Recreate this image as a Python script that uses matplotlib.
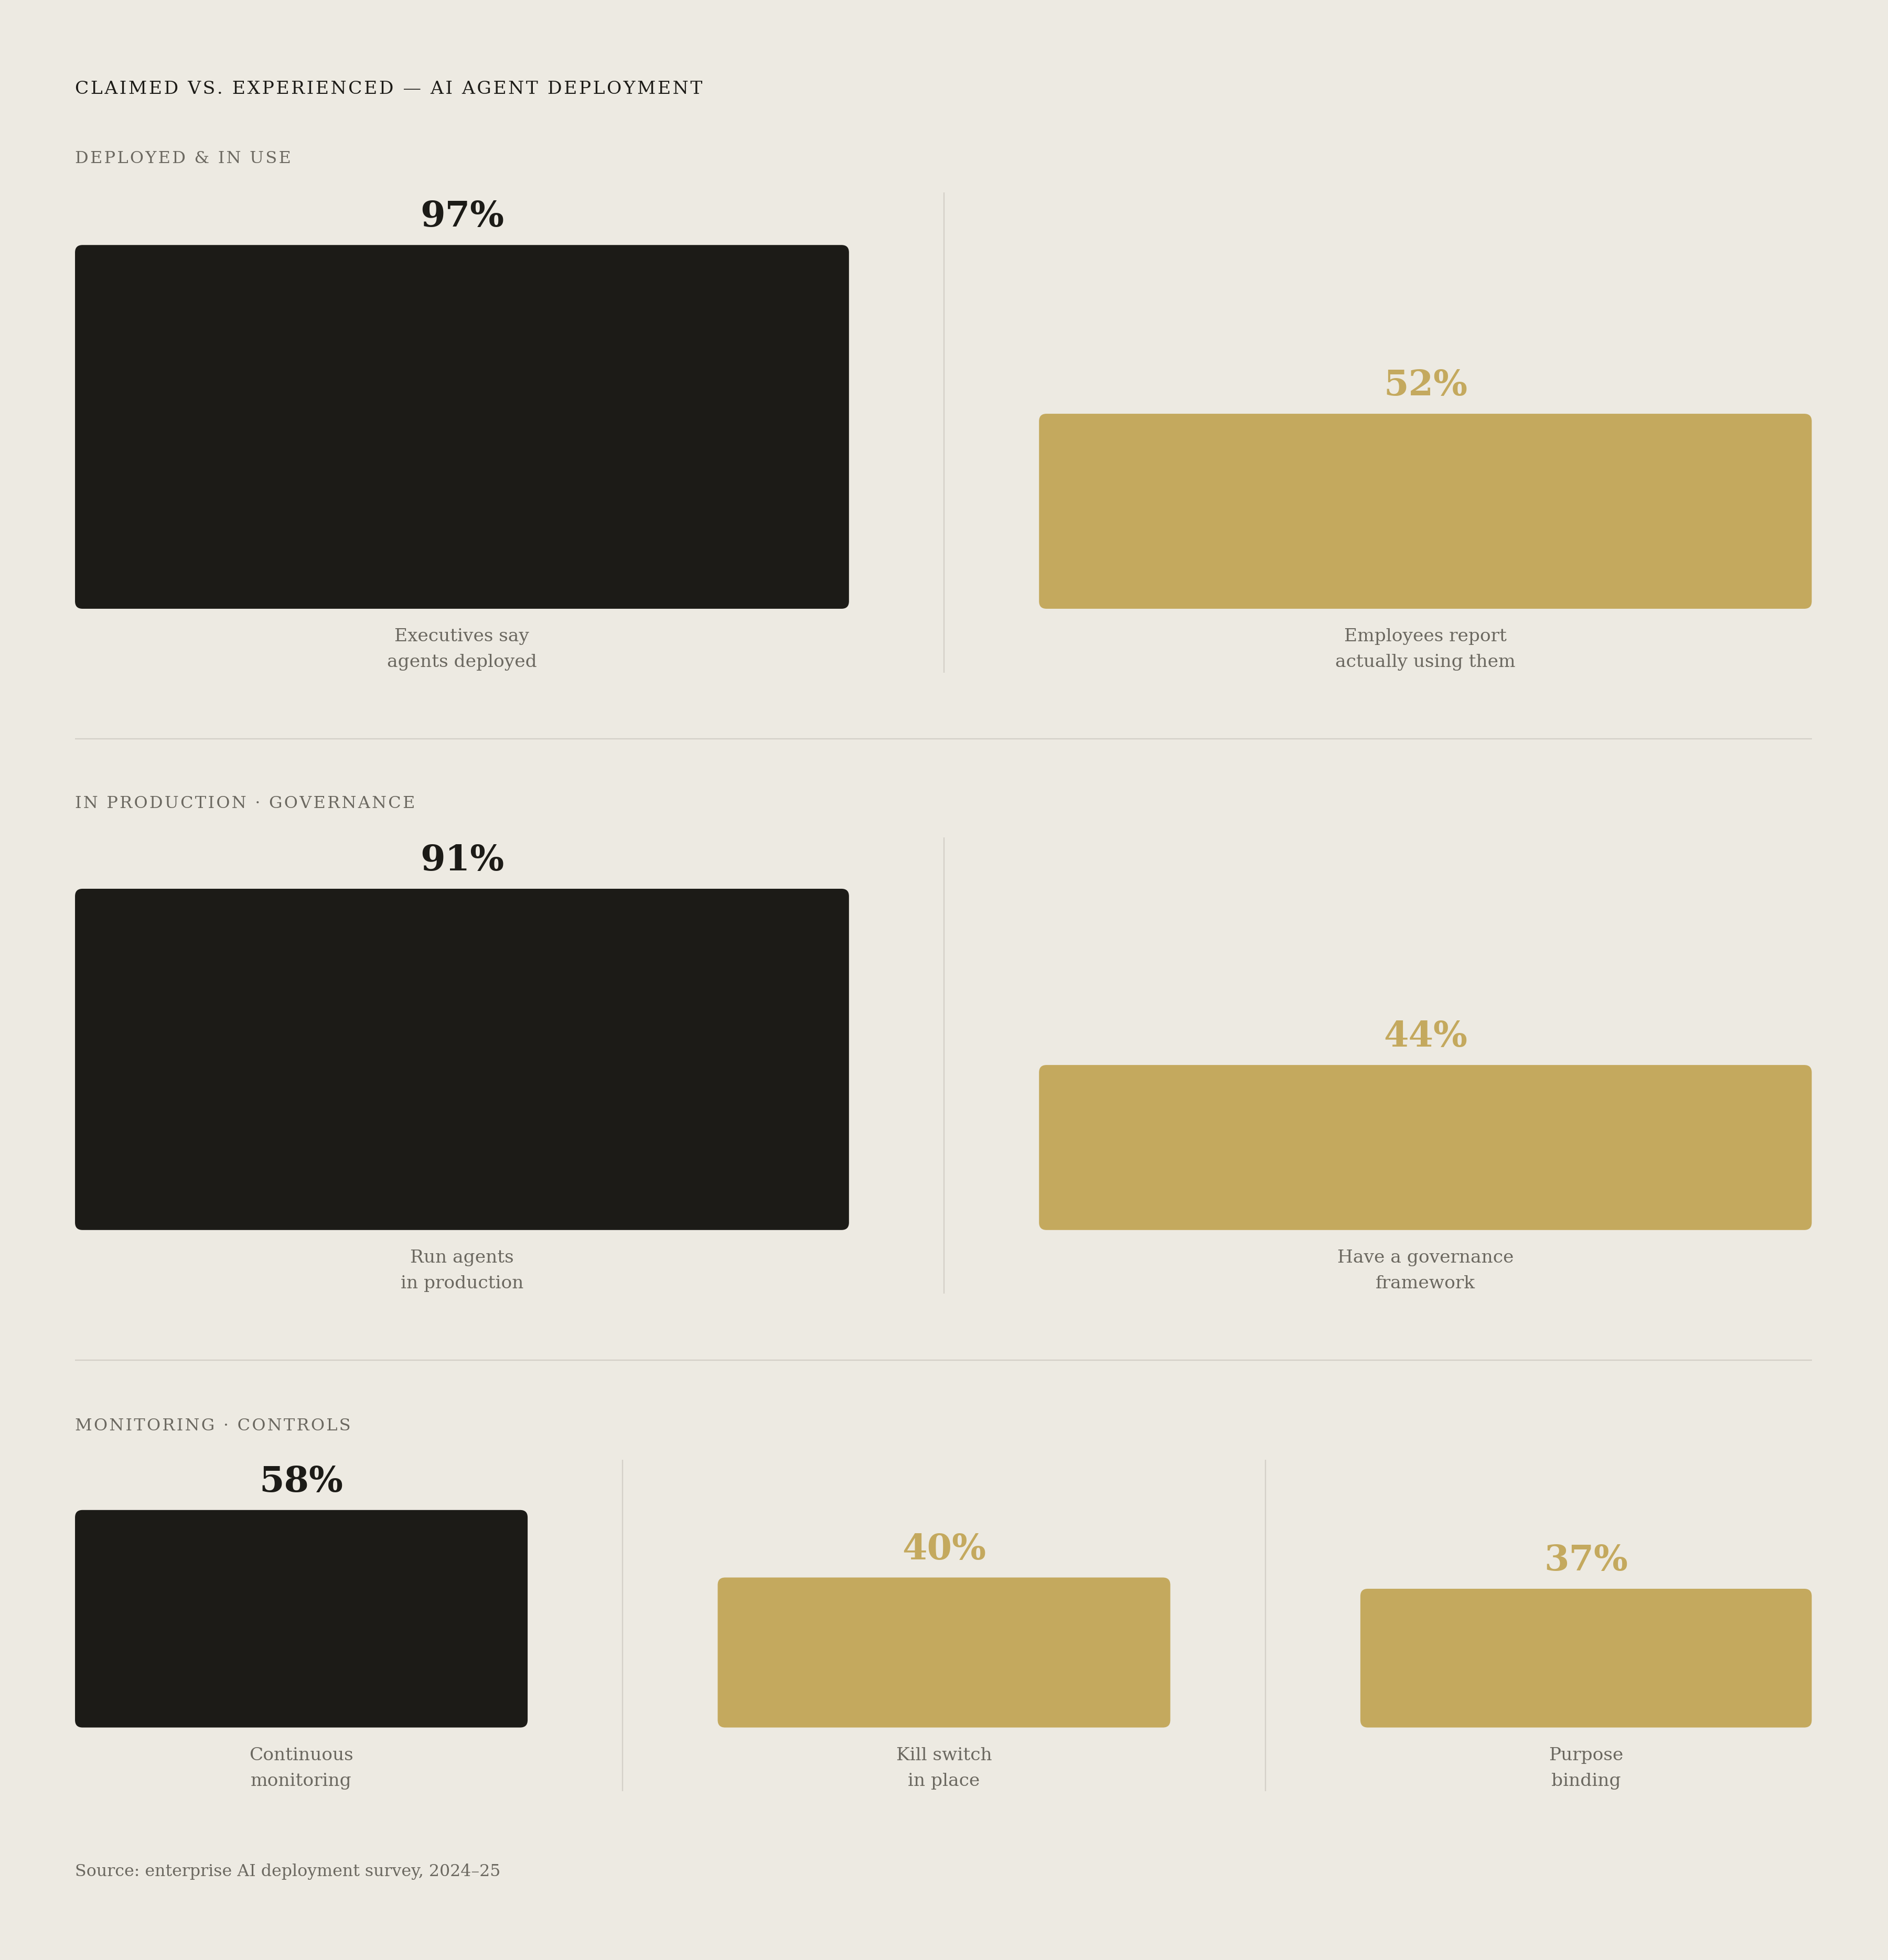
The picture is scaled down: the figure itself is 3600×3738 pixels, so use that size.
import matplotlib.pyplot as plt
from matplotlib.patches import FancyBboxPatch

# reference layout is measured on a 1510 x 1568 grid, output is 3600 x 3738
W, H = 1510, 1568
PT = (3600 / W) * 72 / 240   # one grid px in points

BG = '#EDEAE2'
DARK = '#1C1B17'
GOLD = '#C4A95E'
GREY = '#6B6860'
RULE = '#D4D0C8'

title = 'CLAIMED VS. EXPERIENCED — AI AGENT DEPLOYMENT'
section_titles = ['DEPLOYED & IN USE', 'IN PRODUCTION · GOVERNANCE', 'MONITORING · CONTROLS']

s1_labels = ['Executives say\nagents deployed', 'Employees report\nactually using them']
s1_values = [97, 52]
s2_labels = ['Run agents\nin production', 'Have a governance\nframework']
s2_values = [91, 44]
s3_labels = ['Continuous\nmonitoring', 'Kill switch\nin place', 'Purpose\nbinding']
s3_values = [58, 40, 37]

source = 'Source: enterprise AI deployment survey, 2024–25'

# layout (grid px)
label_y = [130.5, 646.5, 1144.5]
baselines = [487, 984, 1382]
cols2 = [(60, 679), (831, 1449)]
cols3 = [(60, 422), (574, 936), (1088, 1449)]
div2 = [755]
div3 = [498, 1012]

plt.rcParams['font.family'] = ['DejaVu Serif']

fig = plt.figure(figsize=(15, 3738 / 240), dpi=240, facecolor=BG)
base = fig.add_axes([0, 0, 1, 1])
base.set_xlim(0, W)
base.set_ylim(H, 0)
base.axis('off')


def spaced(s):
    return '\u200a'.join(s)


base.text(60, 75, spaced(title), fontsize=10.35, color=DARK, va='baseline', ha='left')
base.text(60, 1501, source, fontsize=9.5, color=GREY, va='baseline', ha='left')

for yy in [591, 1088]:
    base.plot([60, 1449], [yy, yy], color=RULE, lw=PT, solid_capstyle='butt')

sections = [(s1_labels, s1_values, cols2, div2),
            (s2_labels, s2_values, cols2, div2),
            (s3_labels, s3_values, cols3, div3)]

for i, (labels, values, cols, divs) in enumerate(sections):
    ly = label_y[i]
    b = baselines[i]
    base.text(60, ly, spaced(section_titles[i]), fontsize=9.6, color=GREY,
              va='baseline', ha='left')
    for dx in divs:
        base.plot([dx, dx], [ly + 23.5, b + 51], color=RULE, lw=PT, solid_capstyle='butt')

    for j, (lab, v) in enumerate(zip(labels, values)):
        x0, x1 = cols[j]
        wpx = x1 - x0
        ax = fig.add_axes([x0 / W, 1 - b / H, wpx / W, 300 / H])
        ax.set_xlim(-0.5, 0.5)
        ax.set_ylim(0, 100)
        ax.axis('off')
        col = DARK if j == 0 else GOLD
        bars = ax.bar([0], [v], width=1, color=col)
        for bar in bars:
            r = 6 / wpx
            fb = FancyBboxPatch((bar.get_x(), bar.get_y()), bar.get_width(), bar.get_height(),
                                boxstyle=f'round,pad=0,rounding_size={r}',
                                mutation_aspect=wpx / 3, fc=col, ec='none', clip_on=False)
            ax.add_patch(fb)
            bar.remove()
        ax.annotate(f'{v}%', (0, v), xytext=(0, 14.6 * PT), textcoords='offset points',
                    ha='center', va='baseline', fontsize=20.5, fontweight='bold', color=col)
        for k, line in enumerate(lab.split('\n')):
            ax.annotate(line, (0, 0), xytext=(0, -(26 + 20.6 * k) * PT), textcoords='offset points',
                        ha='center', va='baseline', fontsize=10.3, color=GREY)

fig.savefig('out.png', dpi=240, facecolor=BG)
